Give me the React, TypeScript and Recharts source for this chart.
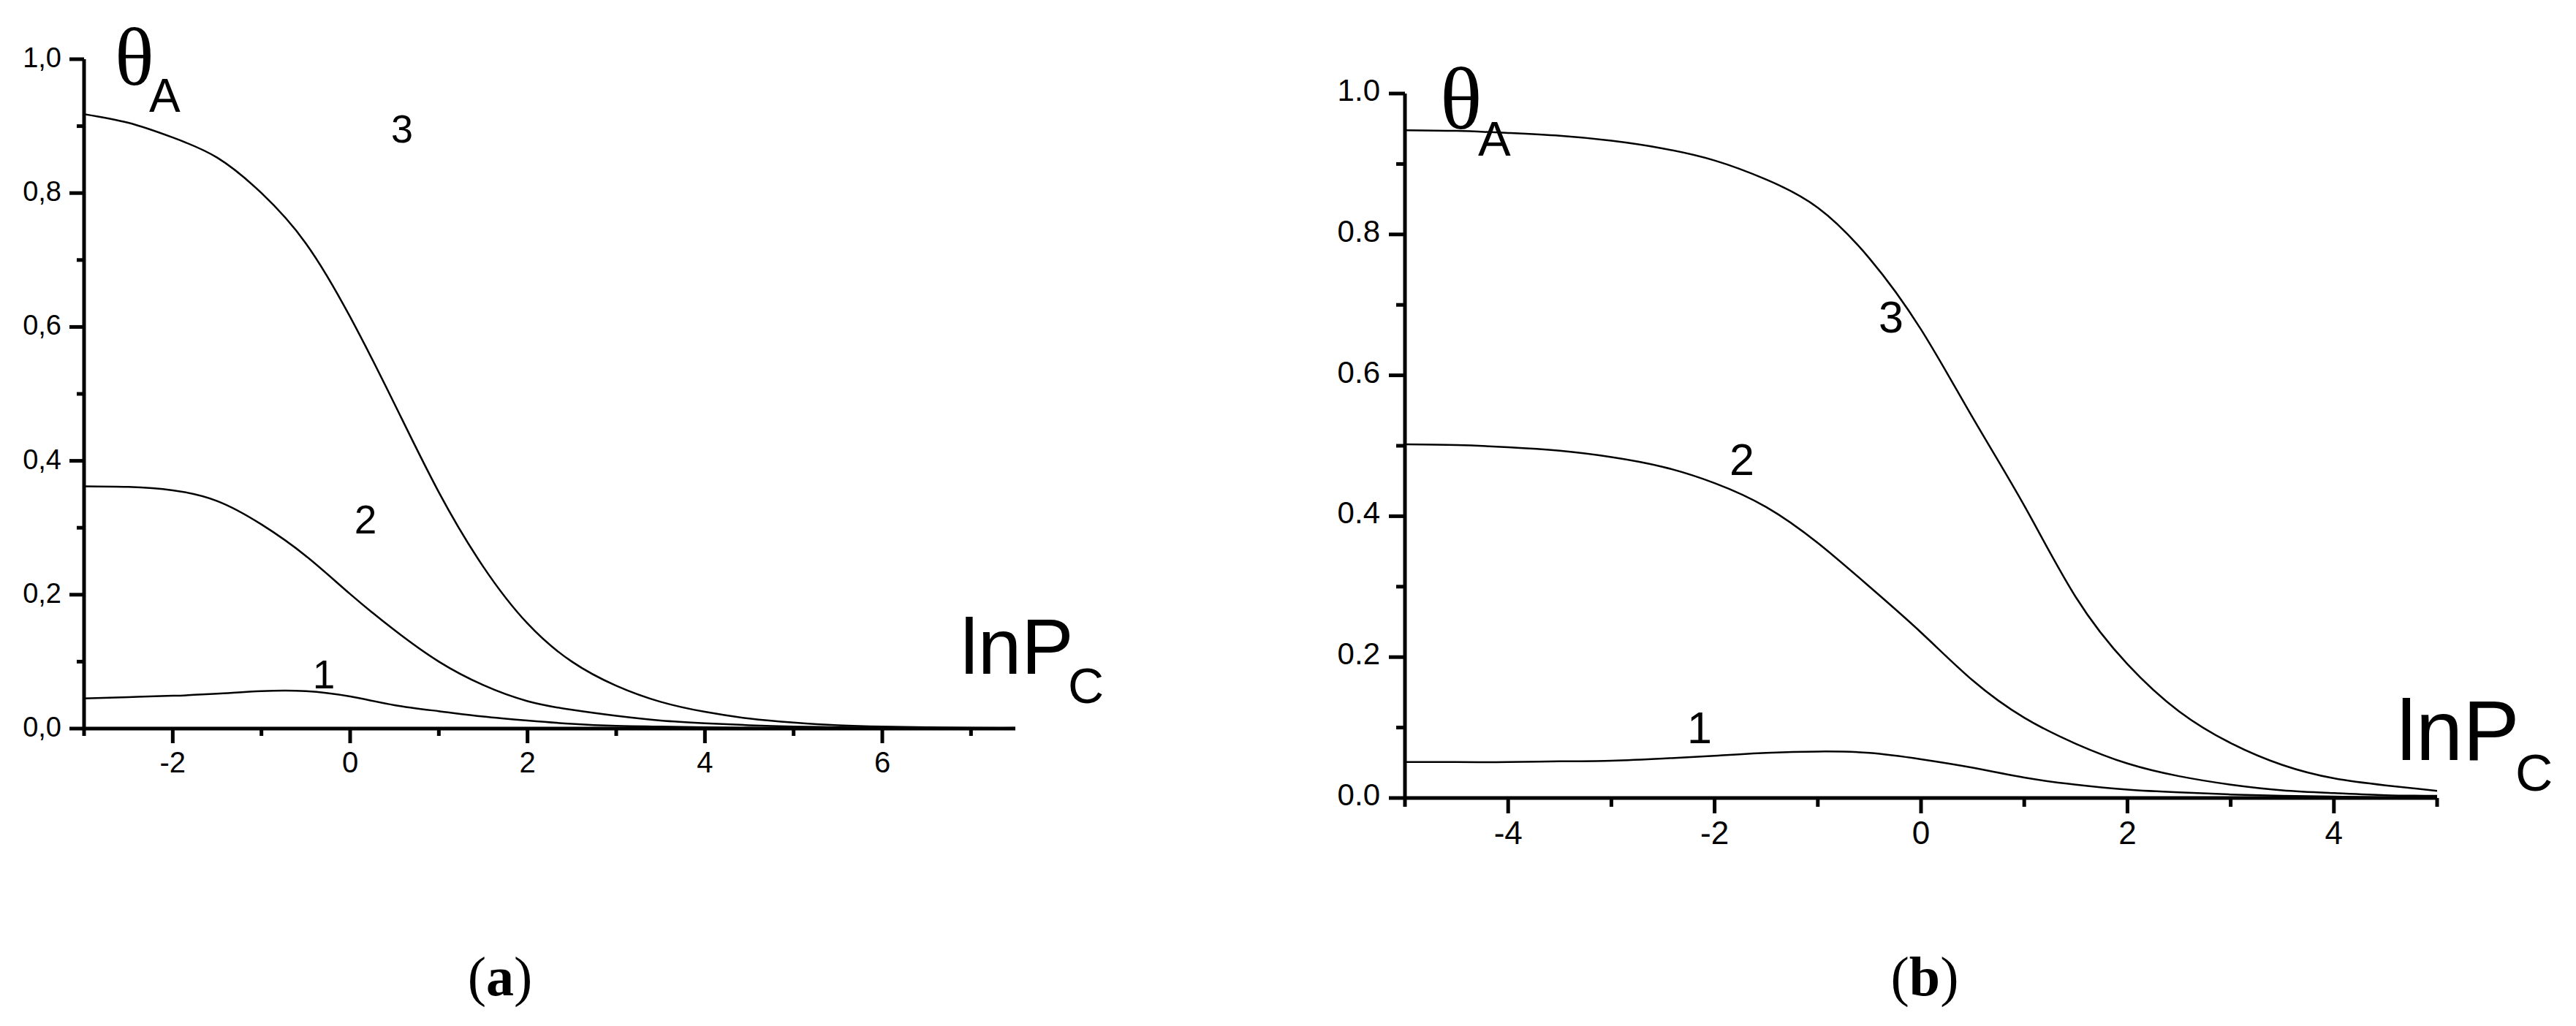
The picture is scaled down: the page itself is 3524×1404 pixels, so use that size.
import { LineChart, Line, XAxis, YAxis } from "recharts";

const SANS = "'Liberation Sans', Arial, Helvetica, sans-serif";
const SERIF = "'Liberation Serif', 'Times New Roman', serif";

// panel (a): lnPc from -3 to 7.5
const A_X = [-3, -2.5, -2, -1.5, -1, -0.5, 0, 0.5, 1, 1.5, 2, 2.5, 3, 3.5, 4, 4.5, 5, 5.5, 6, 6.5, 7, 7.5];
const A_CURVE1 = [0.045, 0.047, 0.049, 0.052, 0.056, 0.056, 0.048, 0.035, 0.026, 0.018, 0.012, 0.007, 0.004, 0.003, 0.002, 0.001, 0.001, 0.0005, 0, 0, 0, 0];
const A_CURVE2 = [0.362, 0.361, 0.356, 0.34, 0.305, 0.258, 0.201, 0.147, 0.1, 0.065, 0.041, 0.028, 0.019, 0.012, 0.008, 0.005, 0.003, 0.002, 0.001, 0.001, 0, 0];
const A_CURVE3 = [0.918, 0.905, 0.883, 0.853, 0.8, 0.725, 0.615, 0.485, 0.353, 0.242, 0.157, 0.1, 0.064, 0.04, 0.025, 0.015, 0.009, 0.005, 0.003, 0.002, 0.001, 0.001];
const A_TICKS_X = [-3, -2, -1, 0, 1, 2, 3, 4, 5, 6, 7];

// panel (b): lnPc from -5 to 5
const B_X = [-5, -4.5, -4, -3.5, -3, -2.5, -2, -1.5, -1, -0.5, 0, 0.5, 1, 1.5, 2, 2.5, 3, 3.5, 4, 4.5, 5];
const B_CURVE1 = [0.051, 0.051, 0.051, 0.052, 0.053, 0.056, 0.06, 0.064, 0.066, 0.064, 0.055, 0.043, 0.029, 0.019, 0.012, 0.008, 0.005, 0.003, 0.002, 0.001, 0.001];
const B_CURVE2 = [0.502, 0.501, 0.498, 0.493, 0.484, 0.47, 0.447, 0.413, 0.362, 0.3, 0.235, 0.167, 0.114, 0.077, 0.049, 0.031, 0.019, 0.011, 0.007, 0.004, 0.003];
const B_CURVE3 = [0.948, 0.947, 0.944, 0.94, 0.933, 0.922, 0.905, 0.878, 0.838, 0.766, 0.665, 0.54, 0.415, 0.285, 0.19, 0.123, 0.078, 0.047, 0.028, 0.018, 0.01];
const B_TICKS_X = [-5, -4, -3, -2, -1, 0, 1, 2, 3, 4, 5];

const TICKS_Y = [0, 0.1, 0.2, 0.3, 0.4, 0.5, 0.6, 0.7, 0.8, 0.9, 1.0];

const toPoints = (xs: number[], ys: number[]) => xs.map((x, i) => ({ x, y: ys[i] }));

const YTick = (props: any) => {
  const { y, payload, axisX, major, minor, fontSize, gap, dy, comma } = props;
  const v = payload.value;
  const isMajor = Math.round(v * 10) % 2 === 0;
  const len = isMajor ? major : minor;
  const label = v.toFixed(1).replace(".", comma ? "," : ".");
  return (
    <g>
      <line x1={axisX - len} x2={axisX} y1={y} y2={y} stroke="#000" strokeWidth={5} />
      {isMajor && (
        <text x={axisX - major - gap} y={y + dy} textAnchor="end" fontSize={fontSize} fontFamily={SANS} fill="#000">
          {label}
        </text>
      )}
    </g>
  );
};

const XTick = (props: any) => {
  const { x, payload, axisY, major, minor, fontSize, dy } = props;
  const v = payload.value;
  const isMajor = v % 2 === 0;
  const len = isMajor ? major : minor;
  return (
    <g>
      <line x1={x} x2={x} y1={axisY} y2={axisY + len} stroke="#000" strokeWidth={5} />
      {isMajor && (
        <text x={x} y={axisY + dy} textAnchor="middle" fontSize={fontSize} fontFamily={SANS} fill="#000">
          {v}
        </text>
      )}
    </g>
  );
};

const curve = (data: { x: number; y: number }[], key: string) => (
  <Line
    key={key}
    data={data}
    dataKey="y"
    type="natural"
    stroke="#000"
    strokeWidth={2.5}
    dot={false}
    activeDot={false}
    isAnimationActive={false}
  />
);

export default function App() {
  return (
    <div style={{ position: "relative", width: 3524, height: 1404, background: "#fff", overflow: "hidden" }}>
      <style>{"body{margin:0}"}</style>

      <div style={{ position: "absolute", left: 0, top: 0 }}>
        <LineChart width={1400} height={1100} margin={{ top: 81, right: 11, bottom: 0, left: 0 }}>
          <XAxis
            type="number"
            dataKey="x"
            domain={[-3, 7.5]}
            ticks={A_TICKS_X}
            interval={0}
            allowDataOverflow
            height={103}
            tickSize={0}
            tickMargin={0}
            tickLine={false}
            axisLine={{ stroke: "#000", strokeWidth: 5 }}
            tick={<XTick axisY={997} major={20} minor={10} fontSize={40} dy={60} />}
          />
          <YAxis
            type="number"
            domain={[0, 1]}
            ticks={TICKS_Y}
            interval={0}
            allowDataOverflow
            width={115}
            tickSize={0}
            tickMargin={0}
            tickLine={false}
            axisLine={{ stroke: "#000", strokeWidth: 5 }}
            tick={<YTick axisX={115} major={20} minor={10} fontSize={38} gap={11} dy={11} comma />}
          />
          {curve(toPoints(A_X, A_CURVE1), "a1")}
          {curve(toPoints(A_X, A_CURVE2), "a2")}
          {curve(toPoints(A_X, A_CURVE3), "a3")}
        </LineChart>
      </div>

      <div style={{ position: "absolute", left: 1700, top: 0 }}>
        <LineChart width={1650} height={1200} margin={{ top: 128, right: 16, bottom: 0, left: 0 }}>
          <XAxis
            type="number"
            dataKey="x"
            domain={[-5, 5]}
            ticks={B_TICKS_X}
            interval={0}
            allowDataOverflow
            height={108}
            tickSize={0}
            tickMargin={0}
            tickLine={false}
            axisLine={{ stroke: "#000", strokeWidth: 5 }}
            tick={<XTick axisY={1092} major={21} minor={12} fontSize={44} dy={63} />}
          />
          <YAxis
            type="number"
            domain={[0, 1]}
            ticks={TICKS_Y}
            interval={0}
            allowDataOverflow
            width={222}
            tickSize={0}
            tickMargin={0}
            tickLine={false}
            axisLine={{ stroke: "#000", strokeWidth: 5 }}
            tick={<YTick axisX={222} major={22} minor={12} fontSize={42} gap={12} dy={10} />}
          />
          {curve(toPoints(B_X, B_CURVE1), "b1")}
          {curve(toPoints(B_X, B_CURVE2), "b2")}
          {curve(toPoints(B_X, B_CURVE3), "b3")}
        </LineChart>
      </div>

      <svg
        width={3524}
        height={1404}
        style={{ position: "absolute", left: 0, top: 0, pointerEvents: "none" }}
      >
        {/* panel (a) annotations */}
        <text x={157} y={116} fontSize={112} fontFamily={SERIF}>
          θ<tspan x={204} y={153} fontSize={64} fontFamily={SANS}>A</tspan>
        </text>
        <text x={1314} y={922} fontSize={107} fontFamily={SANS}>
          lnP<tspan x={1461} y={962} fontSize={68}>C</tspan>
        </text>
        <text x={550} y={195} fontSize={54} fontFamily={SANS} textAnchor="middle">3</text>
        <text x={500} y={730} fontSize={55} fontFamily={SANS} textAnchor="middle">2</text>
        <text x={443} y={942} fontSize={55} fontFamily={SANS} textAnchor="middle">1</text>

        {/* panel (b) annotations */}
        <text x={1970} y={176} fontSize={120} fontFamily={SERIF}>
          θ<tspan x={2022} y={213} fontSize={67} fontFamily={SANS}>A</tspan>
        </text>
        <text x={3279} y={1040} fontSize={116} fontFamily={SANS}>
          lnP<tspan x={3441} y={1082} fontSize={71}>C</tspan>
        </text>
        <text x={2587} y={455} fontSize={61} fontFamily={SANS} textAnchor="middle">3</text>
        <text x={2383} y={650} fontSize={61} fontFamily={SANS} textAnchor="middle">2</text>
        <text x={2325} y={1017} fontSize={61} fontFamily={SANS} textAnchor="middle">1</text>

        {/* captions */}
        <text x={684} y={1362} fontSize={76} fontFamily={SERIF} textAnchor="middle">
          (<tspan fontWeight="bold">a</tspan>)
        </text>
        <text x={2633} y={1362} fontSize={76} fontFamily={SERIF} textAnchor="middle">
          (<tspan fontWeight="bold">b</tspan>)
        </text>
      </svg>
    </div>
  );
}
